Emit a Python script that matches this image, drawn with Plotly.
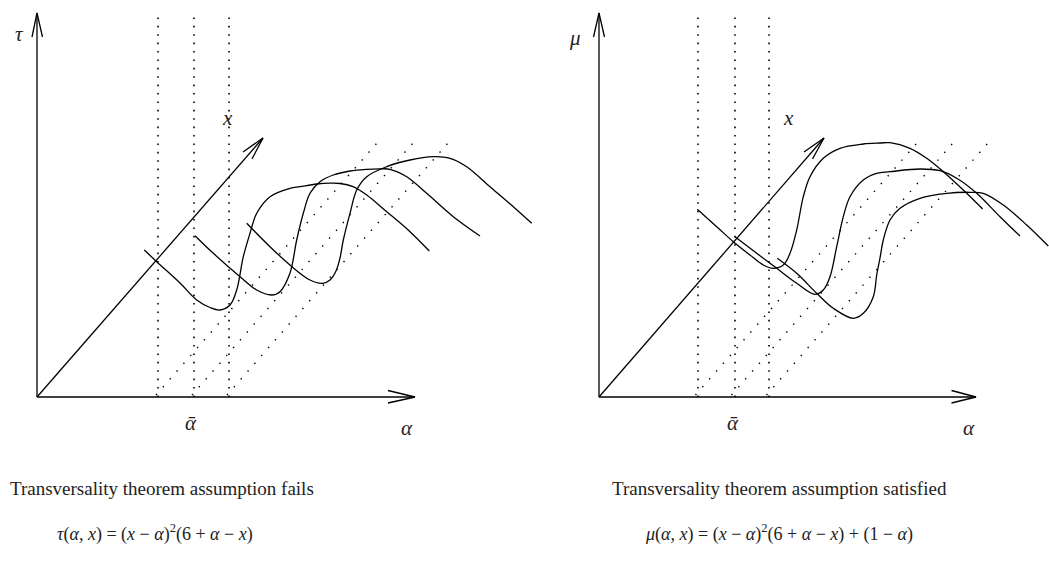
import plotly.graph_objects as go

# ---------------- data (diagram coordinates, pixel frame) ----------------
# Left panel: axes
L_origin = (37, 397)
L_tau_top = (37, 13)
L_alpha_end = (415, 397)
L_x_end = (263, 138)
L_tau_head_x = [32, 37, 42.5]
L_tau_head_y = [37, 13, 37]
L_alpha_head_x = [388, 415, 388]
L_alpha_head_y = [390.5, 397, 403]
L_x_head_x = [243, 263, 252]
L_x_head_y = [152, 138, 159]
L_vert_x = [158, 194, 229]
L_diag_bottom_x = [156, 192, 227]
L_diag_top_x = [377, 413, 448]

# Left curves tau(alpha, x) for three x values
L_c1_x = [144.3, 156.7, 180, 196.7, 210, 220, 230, 236.7, 243.3, 250, 256.7, 270, 290, 300, 316.7, 330, 340, 353, 366.7, 386.7, 410, 429.3]
L_c1_y = [250, 261.7, 283, 300, 307.5, 310, 305, 290, 256.7, 233.3, 213.3, 196.7, 188.3, 186.7, 184, 183.2, 183.5, 186.7, 195, 211.7, 231.7, 251]
L_c2_x = [195, 213.3, 240, 256.7, 271.7, 280, 290, 296.7, 303.3, 310, 320, 333.3, 350, 366.7, 380, 390, 406.7, 426.7, 453.3, 480]
L_c2_y = [235.7, 253.3, 276.7, 290, 295, 291.7, 273, 240, 213.3, 193.3, 181.7, 175, 171, 169.3, 168.8, 169.3, 176.7, 193.3, 216.7, 236]
L_c3_x = [246.7, 270, 290, 310, 322.7, 330, 336, 340, 343.3, 350, 356.7, 366.7, 386.7, 410, 433.3, 450, 466.7, 490, 513.3, 531.7]
L_c3_y = [223.3, 246.7, 265, 280, 283.3, 280, 271, 258, 240, 213.3, 190, 176.7, 166.7, 160, 156.7, 158.3, 166.7, 186.7, 206.7, 223.3]

# Right panel: axes
R_origin = (599, 397)
R_mu_top = (599, 13)
R_alpha_end = (976, 397)
R_x_end = (824, 138)
R_mu_head_x = [593.5, 599, 604.5]
R_mu_head_y = [37, 13, 37]
R_alpha_head_x = [951.5, 976, 951.5]
R_alpha_head_y = [390.5, 397, 403]
R_x_head_x = [804, 824, 812.5]
R_x_head_y = [152, 138, 159]
R_vert_x = [698, 735, 769]
R_diag_bottom_x = [695.5, 731.5, 766.5]
R_diag_top_x = [917, 953, 988]

# Right curves mu(alpha, x) for three x values
R_cA_x = [697.3, 716.7, 733.3, 750, 763.3, 773.3, 783.3, 790, 796.7, 803.3, 810, 823.3, 840, 863.3, 880, 890, 910, 926.7, 943.3, 963.3, 982.7]
R_cA_y = [209.3, 226.7, 241.7, 255, 265, 268.3, 265, 253.3, 230, 196.7, 176.7, 158.3, 148.3, 144, 143, 142.7, 148.3, 158.3, 171.7, 190, 209]
R_cB_x = [735, 756.7, 776.7, 796.7, 815, 823.3, 830, 836.7, 843.3, 850, 863.3, 876.7, 890, 920, 940, 956.7, 976.7, 1000, 1020]
R_cB_y = [236.7, 253.3, 268.3, 283.3, 294.3, 290, 276.7, 246.7, 216.7, 196.7, 180, 173.3, 171.7, 169, 170.7, 178.3, 193.3, 216.7, 236]
R_cC_x = [777.3, 796.7, 816.7, 833.3, 853.3, 863.3, 873.3, 876.7, 880, 883.3, 890, 900, 920, 946.7, 970, 983.3, 1003.3, 1026.7, 1048.3]
R_cC_y = [258.3, 273.3, 293.3, 308.3, 318.3, 313.3, 296.7, 275, 258, 240, 220, 208.3, 198.3, 193.3, 192.3, 193.3, 205, 225, 246]

BASE_Y = 397
TOP_Y = 13
DIAG_TOP_Y = 143

# ---------------- figure ----------------
fig = go.Figure()
solid = dict(color="black", width=1.3)


def add_line(xs, ys, line=solid, shape="linear"):
    ln = dict(line)
    if shape != "linear":
        ln["shape"] = shape
        ln["smoothing"] = 1.0
    fig.add_trace(go.Scatter(x=xs, y=ys, mode="lines", line=ln,
                             hoverinfo="skip", showlegend=False))


for (orig, ytop, xend, xax_end, vh, va, vx, vxs, dbs, dts, curves) in [
    (L_origin, L_tau_top, L_alpha_end, L_x_end,
     (L_tau_head_x, L_tau_head_y), (L_alpha_head_x, L_alpha_head_y), (L_x_head_x, L_x_head_y),
     L_vert_x, L_diag_bottom_x, L_diag_top_x,
     [(L_c1_x, L_c1_y), (L_c2_x, L_c2_y), (L_c3_x, L_c3_y)]),
    (R_origin, R_mu_top, R_alpha_end, R_x_end,
     (R_mu_head_x, R_mu_head_y), (R_alpha_head_x, R_alpha_head_y), (R_x_head_x, R_x_head_y),
     R_vert_x, R_diag_bottom_x, R_diag_top_x,
     [(R_cA_x, R_cA_y), (R_cB_x, R_cB_y), (R_cC_x, R_cC_y)]),
]:
    # dotted verticals
    for xv in vxs:
        add_line([xv, xv], [BASE_Y, TOP_Y], line=dict(color="black", width=1.6, dash="1.6px,6.8px"))
    # dotted diagonals
    for xb, xt in zip(dbs, dts):
        add_line([xb, xt], [BASE_Y - 2, DIAG_TOP_Y], line=dict(color="black", width=1.4, dash="1.4px,9px"))
    # axes
    add_line([orig[0], ytop[0]], [orig[1], ytop[1]])
    add_line([orig[0], xend[0]], [orig[1], xend[1]], line=dict(color="black", width=1.6))
    add_line([orig[0], xax_end[0]], [orig[1], xax_end[1]])
    for hx, hy in (vh, va, vx):
        add_line(hx, hy)
    # curves
    for cx, cy in curves:
        add_line(cx, cy, shape="spline")

serif = "Liberation Serif, DejaVu Serif, serif"
labels = [
    (19, 34, "<i>τ</i>", 21),
    (575, 38, "<i>μ</i>", 21),
    (227, 118, "<i>x</i>", 21),
    (788, 118, "<i>x</i>", 21),
    (191, 423, "<i>ᾱ</i>", 21),
    (733, 423, "<i>ᾱ</i>", 21),
    (407, 428, "<i>α</i>", 21),
    (969, 428, "<i>α</i>", 21),
]
for x, y, t, s in labels:
    fig.add_annotation(x=x, y=y, text=t, showarrow=False, xanchor="center", yanchor="middle",
                       font=dict(family=serif, size=s, color="#222"))

captions = [
    (162, 488, "Transversality theorem assumption fails", 19),
    (779, 488, "Transversality theorem assumption satisfied", 19),
    (155, 533, "<i>τ</i>(<i>α, x</i>) = (<i>x</i> − <i>α</i>)<sup>2</sup>(6 + <i>α</i> − <i>x</i>)", 18),
    (779, 533, "<i>μ</i>(<i>α, x</i>) = (<i>x</i> − <i>α</i>)<sup>2</sup>(6 + <i>α</i> − <i>x</i>) + (1 − <i>α</i>)", 18),
]
for x, y, t, s in captions:
    fig.add_annotation(x=x, y=y, text=t, showarrow=False, xanchor="center", yanchor="middle",
                       font=dict(family=serif, size=s, color="#222"))

fig.update_layout(
    width=1049, height=567, margin=dict(l=0, r=0, t=0, b=0),
    paper_bgcolor="white", plot_bgcolor="white",
    xaxis=dict(range=[0, 1049], visible=False, fixedrange=True),
    yaxis=dict(range=[567, 0], visible=False, fixedrange=True),
    showlegend=False,
)

fig.write_html("out.html", config={"displayModeBar": False},
               post_script="document.body.style.margin='0';document.body.style.overflow='hidden';")
